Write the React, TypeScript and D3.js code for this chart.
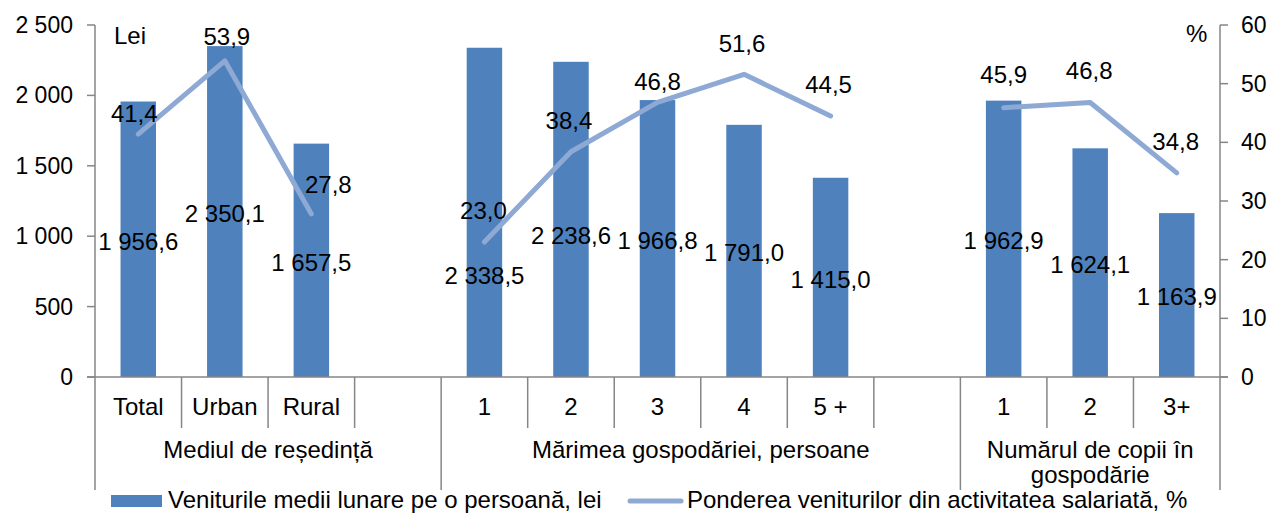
import React from "react";
import * as d3 from "d3";

const categories = ["Total", "Urban", "Rural", "", "1", "2", "3", "4", "5 +", "", "1", "2", "3+"];
const incomeValues: (number | null)[] = [1956.6, 2350.1, 1657.5, null, 2338.5, 2238.6, 1966.8, 1791.0, 1415.0, null, 1962.9, 1624.1, 1163.9];
const shareValues: (number | null)[] = [41.4, 53.9, 27.8, null, 23.0, 38.4, 46.8, 51.6, 44.5, null, 45.9, 46.8, 34.8];
const groupLabels = ["Mediul de reședință", "Mărimea gospodăriei, persoane", "Numărul de copii în|gospodărie"];
const groupSizes = [4, 6, 3];
const leftTicks = [0, 500, 1000, 1500, 2000, 2500];
const rightTicks = [0, 10, 20, 30, 40, 50, 60];
const seriesNames = ["Veniturile medii lunare pe o persoană, lei", "Ponderea veniturilor din activitatea salariată, %"];

// manual label nudges (layout only)
const barLabelDy = [0, 0, 0, 0, 61, 14, 0, 0, 0, 0, 0, 0, 0];
const lineLabelDy = [-21, -24, -29, 0, -31, -31, -21, -31, -31, 0, -33, -32, -31];
const lineLabelDx = [-4, 2, 17, 0, -1, -2, 0, -2, -2, 0, 0, -1, -1];

const W = 1272, H = 513;
const X0 = 95, X1 = 1220, YT = 25, YB = 377;
const BAR = "#4F81BD";
const LINE = "#8EA9D4";
const AXIS = "#868686";
const FONT = "'Liberation Sans', Arial, sans-serif";

const loc = d3.formatLocale({ decimal: ",", thousands: " ", grouping: [3], currency: ["", ""] });
const f1 = loc.format(",.1f");
const f0 = loc.format(",d");

export default function App() {
  const x = d3.scaleBand<number>().domain(d3.range(categories.length)).range([X0, X1]).padding(0);
  const yL = d3.scaleLinear().domain([0, 2500]).range([YB, YT]);
  const yR = d3.scaleLinear().domain([0, 60]).range([YB, YT]);
  const bw = x.bandwidth();
  const barW = bw * 0.41;
  const cx = (i: number) => (x(i) as number) + bw / 2;

  const line = d3
    .line<number | null>()
    .defined((d) => d != null)
    .x((_, i) => cx(i))
    .y((d) => yR(d as number));

  const groupStarts = groupSizes.map((_, gi) => d3.sum(groupSizes.slice(0, gi)));

  return (
    <svg width={W} height={H} style={{ position: "absolute", left: 0, top: 0, background: "#fff" }} fontFamily={FONT}>
      {/* bars */}
      {incomeValues.map((v, i) =>
        v == null ? null : (
          <rect key={"b" + i} x={cx(i) - barW / 2} y={yL(v)} width={barW} height={YB - yL(v)} fill={BAR} />
        )
      )}
      {/* line */}
      <path d={line(shareValues) || ""} fill="none" stroke={LINE} strokeWidth={5} strokeLinecap="round" strokeLinejoin="round" />

      {/* axes */}
      <line x1={X0} x2={X0} y1={YT} y2={490} stroke={AXIS} strokeWidth={1.5} />
      <line x1={X1} x2={X1} y1={YT} y2={490} stroke={AXIS} strokeWidth={1.5} />
      <line x1={X0 - 8} x2={X1 + 8} y1={YB} y2={YB} stroke={AXIS} strokeWidth={1.5} />
      {leftTicks.map((t) => (
        <g key={"l" + t}>
          <line x1={X0 - 8} x2={X0} y1={yL(t)} y2={yL(t)} stroke={AXIS} strokeWidth={1.5} />
          <text x={73} y={yL(t)} dy="0.35em" textAnchor="end" fontSize={23} fill="#000">
            {f0(t)}
          </text>
        </g>
      ))}
      {rightTicks.map((t) => (
        <g key={"r" + t}>
          <line x1={X1} x2={X1 + 8} y1={yR(t)} y2={yR(t)} stroke={AXIS} strokeWidth={1.5} />
          <text x={1241} y={yR(t)} dy="0.35em" textAnchor="start" fontSize={23} fill="#000">
            {t}
          </text>
        </g>
      ))}
      <text x={114} y={36} dy="0.35em" fontSize={24}>Lei</text>
      <text x={1186} y={34} dy="0.35em" fontSize={24}>%</text>

      {/* category ticks and labels */}
      {categories.map((c, i) => {
        const isGroupStart = groupStarts.includes(i);
        return (
          <g key={"c" + i}>
            {i > 0 && (
              <line x1={x(i) as number} x2={x(i) as number} y1={YB} y2={isGroupStart ? 490 : 428} stroke={AXIS} strokeWidth={1.5} />
            )}
            <text x={cx(i)} y={407} dy="0.35em" textAnchor="middle" fontSize={24}>
              {c}
            </text>
          </g>
        );
      })}
      {groupLabels.map((g, gi) => {
        const s = groupStarts[gi];
        const e = s + groupSizes[gi];
        const mid = ((x(s) as number) + (e < categories.length ? (x(e) as number) : X1)) / 2;
        return g.split("|").map((ln, li) => (
          <text key={"g" + gi + li} x={mid} y={450 + li * 25} dy="0.35em" textAnchor="middle" fontSize={24}>
            {ln}
          </text>
        ));
      })}

      {/* data labels */}
      {incomeValues.map((v, i) =>
        v == null ? null : (
          <text key={"bl" + i} x={cx(i)} y={(yL(v) + YB) / 2 + 2 + barLabelDy[i]} dy="0.35em" textAnchor="middle" fontSize={24}>
            {f1(v)}
          </text>
        )
      )}
      {shareValues.map((v, i) =>
        v == null ? null : (
          <text key={"ll" + i} x={cx(i) + lineLabelDx[i]} y={yR(v) + lineLabelDy[i]} dy="0.35em" textAnchor="middle" fontSize={24}>
            {f1(v)}
          </text>
        )
      )}

      {/* legend */}
      <rect x={111} y={495} width={51} height={12} fill={BAR} />
      <text x={168} y={500} dy="0.35em" fontSize={24}>{seriesNames[0]}</text>
      <line x1={630} x2={681} y1={501} y2={501} stroke={LINE} strokeWidth={5} strokeLinecap="round" />
      <text x={687} y={500} dy="0.35em" fontSize={24}>{seriesNames[1]}</text>
    </svg>
  );
}
